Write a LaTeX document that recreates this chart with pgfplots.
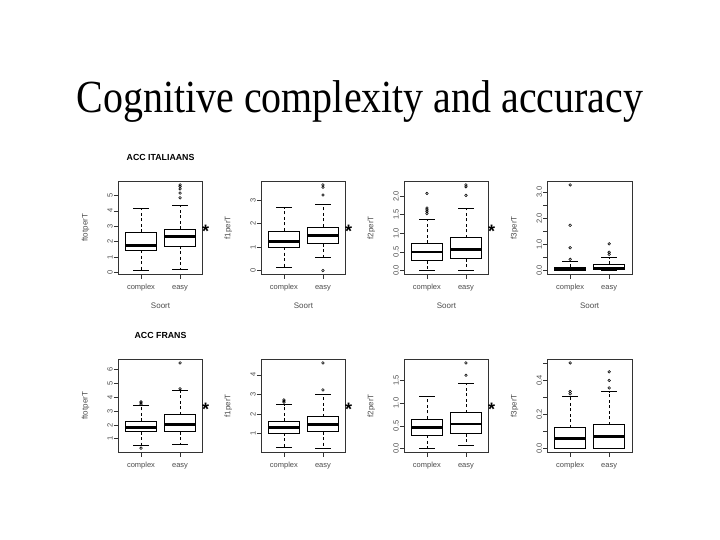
\documentclass[border=0pt]{standalone}
\usepackage{graphicx}
\usepackage{fontspec}
\setmainfont{Liberation Serif}
\newfontfamily\arial{Liberation Sans}
\usepackage{pgfplots}
\pgfplotsset{compat=1.18}
\usepgfplotslibrary{statistics}
\newcommand{\tfont}{\arial\fontsize{7.5}{9}\selectfont}
\newcommand{\lfont}{\arial\fontsize{8}{9.5}\selectfont}
\newcommand{\starfont}{\arial\bfseries\fontsize{18}{18}\selectfont}

\pgfplotsset{
  boxplot/draw direction=y,
  boxplot/box extend=0.8,
  boxplot/whisker extend=0.4,
  boxplot/every box/.style={black, line width=0.75pt, solid},
  boxplot/every median/.style={black, line width=2.8pt, solid},
  boxplot/draw/lower whisker/.code={%
    \draw[black, line width=0.6pt, dash pattern=on 3pt off 2.5pt]
      (boxplot box cs:\pgfplotsboxplotvalue{lower quartile},0.5)
      -- (boxplot box cs:\pgfplotsboxplotvalue{lower whisker},0.5);
    \draw[black, line width=0.7pt, solid]
      (boxplot whisker cs:\pgfplotsboxplotvalue{lower whisker},0)
      -- (boxplot whisker cs:\pgfplotsboxplotvalue{lower whisker},1);
  },
  boxplot/draw/upper whisker/.code={%
    \draw[black, line width=0.6pt, dash pattern=on 3pt off 2.5pt]
      (boxplot box cs:\pgfplotsboxplotvalue{upper quartile},0.5)
      -- (boxplot box cs:\pgfplotsboxplotvalue{upper whisker},0.5);
    \draw[black, line width=0.7pt, solid]
      (boxplot whisker cs:\pgfplotsboxplotvalue{upper whisker},0)
      -- (boxplot whisker cs:\pgfplotsboxplotvalue{upper whisker},1);
  },
  rpanel/.style={
    scale only axis, width=84.3pt, height=92.5pt, anchor=south west,
    xmin=0.42, xmax=2.58, enlargelimits=false, clip=false,
    xtick={1,2}, xticklabels={complex,easy},
    xtick pos=left, ytick pos=left, tick align=outside,
    major tick length=4.5pt, minor tick num=0,
    tick style={black!80, line width=0.55pt},
    axis line style={black!80, line width=0.55pt},
    xticklabel style={font=\tfont, text=black!70, anchor=center, inner sep=0pt},
    yticklabel style={font=\tfont, text=black!70, rotate=90, anchor=center, inner sep=0pt},
    xticklabel shift=9.5pt, yticklabel shift=3.8pt,
    ylabel style={font=\lfont, text=black!70, at={(axis description cs:-0.39,0.5)}, anchor=center},
    xlabel style={font=\lfont, text=black!70, at={(axis description cs:0.5,-0.345)}, anchor=center},
    title style={font=\arial\bfseries\fontsize{8.8}{10}\selectfont, at={(axis description cs:0.5,1.2)}, anchor=center},
    scaled y ticks=false,
  },
  outl/.style={only marks, mark=o, mark size=1.3pt, black, mark options={line width=0.55pt, solid}},
}

\begin{document}
\begin{tikzpicture}[x=1pt,y=1pt]
\fill[white] (0,0) rectangle (720,-540);
\useasboundingbox (0,0) rectangle (720,-540);

\node[anchor=base, inner sep=0pt] at (360,-113)
  {\scalebox{0.868}[1]{\fontsize{46}{50}\selectfont Cognitive complexity and accuracy}};

% ---------------- Row 1: ACC ITALIAANS ----------------
\begin{axis}[rpanel, name=p1, at={(118.4pt,-274pt)},
  ymin=-0.1, ymax=5.91, ytick={0,1,2,3,4,5}, yticklabels={0,1,2,3,4,5},
  ylabel={ftotperT}, xlabel={Soort}, title={ACC ITALIAANS}]
\addplot[black, boxplot prepared={draw position=1, lower whisker=0.12, lower quartile=1.45, median=1.75, upper quartile=2.62, upper whisker=4.17}] coordinates {};
\addplot[black, boxplot prepared={draw position=2, lower whisker=0.2, lower quartile=1.72, median=2.32, upper quartile=2.8, upper whisker=4.38}] coordinates {};
\addplot[outl] coordinates {(2,4.85) (2,5.16) (2,5.43) (2,5.58) (2,5.69)};
\end{axis}
\node[font=\starfont, inner sep=0pt] at ([xshift=3pt,yshift=-3.5pt]p1.east) {*};

\begin{axis}[rpanel, name=p2, at={(261.3pt,-274pt)},
  ymin=-0.146, ymax=3.796, ytick={0,1,2,3}, yticklabels={0,1,2,3},
  ylabel={f1perT}, xlabel={Soort}]
\addplot[black, boxplot prepared={draw position=1, lower whisker=0.14, lower quartile=1.0, median=1.24, upper quartile=1.69, upper whisker=2.71}] coordinates {};
\addplot[black, boxplot prepared={draw position=2, lower whisker=0.58, lower quartile=1.14, median=1.5, upper quartile=1.86, upper whisker=2.83}] coordinates {};
\addplot[outl] coordinates {(2,0.0) (2,3.22) (2,3.55) (2,3.65)};
\end{axis}
\node[font=\starfont, inner sep=0pt] at ([xshift=3pt,yshift=-3.5pt]p2.east) {*};

\begin{axis}[rpanel, name=p3, at={(404.3pt,-274pt)},
  ymin=-0.092, ymax=2.392, ytick={0,0.5,1,1.5,2}, yticklabels={0.0,0.5,1.0,1.5,2.0},
  ylabel={f2perT}, xlabel={Soort}]
\addplot[black, boxplot prepared={draw position=1, lower whisker=0.0, lower quartile=0.27, median=0.5, upper quartile=0.73, upper whisker=1.37}] coordinates {};
\addplot[black, boxplot prepared={draw position=2, lower whisker=0.0, lower quartile=0.32, median=0.57, upper quartile=0.88, upper whisker=1.67}] coordinates {};
\addplot[outl] coordinates {(1,1.53) (1,1.58) (1,1.63) (1,1.68) (1,2.07) (2,2.02) (2,2.25) (2,2.3)};
\end{axis}
\node[font=\starfont, inner sep=0pt] at ([xshift=3pt,yshift=-3.5pt]p3.east) {*};

\begin{axis}[rpanel, name=p4, at={(547.5pt,-274pt)},
  ymin=-0.131, ymax=3.401, ytick={0,0.5,1,1.5,2,2.5,3}, yticklabels={0.0,,1.0,,2.0,,3.0},
  ylabel={f3perT}, xlabel={Soort}]
\addplot[black, boxplot prepared={draw position=1, lower whisker=0.0, lower quartile=0.02, median=0.06, upper quartile=0.13, upper whisker=0.37}] coordinates {};
\addplot[black, boxplot prepared={draw position=2, lower whisker=0.0, lower quartile=0.03, median=0.1, upper quartile=0.24, upper whisker=0.51}] coordinates {};
\addplot[outl] coordinates {(1,0.43) (1,0.87) (1,1.73) (1,3.27) (2,0.62) (2,0.7) (2,1.02)};
\end{axis}

% ---------------- Row 2: ACC FRANS ----------------
\begin{axis}[rpanel, name=p5, at={(118.4pt,-452pt)},
  ymin=0.04, ymax=6.74, ytick={1,2,3,4,5,6}, yticklabels={1,2,3,4,5,6},
  ylabel={ftotperT}, title={ACC FRANS}]
\addplot[black, boxplot prepared={draw position=1, lower whisker=0.5, lower quartile=1.52, median=1.83, upper quartile=2.26, upper whisker=3.41}] coordinates {};
\addplot[black, boxplot prepared={draw position=2, lower whisker=0.56, lower quartile=1.51, median=2.03, upper quartile=2.74, upper whisker=4.48}] coordinates {};
\addplot[outl] coordinates {(1,0.32) (1,3.5) (1,3.6) (1,3.68) (2,4.62) (2,6.49)};
\end{axis}
\node[font=\starfont, inner sep=0pt] at ([xshift=3pt,yshift=-3.5pt]p5.east) {*};

\begin{axis}[rpanel, name=p6, at={(261.3pt,-452pt)},
  ymin=0.055, ymax=4.785, ytick={1,2,3,4}, yticklabels={1,2,3,4},
  ylabel={f1perT}]
\addplot[black, boxplot prepared={draw position=1, lower whisker=0.28, lower quartile=1.03, median=1.32, upper quartile=1.62, upper whisker=2.47}] coordinates {};
\addplot[black, boxplot prepared={draw position=2, lower whisker=0.23, lower quartile=1.1, median=1.48, upper quartile=1.86, upper whisker=3.01}] coordinates {};
\addplot[outl] coordinates {(1,2.6) (1,2.66) (1,2.72) (2,3.23) (2,4.61)};
\end{axis}
\node[font=\starfont, inner sep=0pt] at ([xshift=3pt,yshift=-3.5pt]p6.east) {*};

\begin{axis}[rpanel, name=p7, at={(404.3pt,-452pt)},
  ymin=-0.075, ymax=1.955, ytick={0,0.5,1,1.5}, yticklabels={0.0,0.5,1.0,1.5},
  ylabel={f2perT}]
\addplot[black, boxplot prepared={draw position=1, lower whisker=0.0, lower quartile=0.29, median=0.46, upper quartile=0.65, upper whisker=1.15}] coordinates {};
\addplot[black, boxplot prepared={draw position=2, lower whisker=0.07, lower quartile=0.33, median=0.54, upper quartile=0.79, upper whisker=1.44}] coordinates {};
\addplot[outl] coordinates {(2,1.61) (2,1.88)};
\end{axis}
\node[font=\starfont, inner sep=0pt] at ([xshift=3pt,yshift=-3.5pt]p7.east) {*};

\begin{axis}[rpanel, name=p8, at={(547.5pt,-452pt)},
  ymin=-0.02, ymax=0.52, ytick={0,0.1,0.2,0.3,0.4,0.5}, yticklabels={0.0,,0.2,,0.4,},
  ylabel={f3perT}]
\addplot[black, boxplot prepared={draw position=1, lower whisker=0.0, lower quartile=0.0, median=0.058, upper quartile=0.123, upper whisker=0.304}] coordinates {};
\addplot[black, boxplot prepared={draw position=2, lower whisker=0.0, lower quartile=0.0, median=0.072, upper quartile=0.14, upper whisker=0.333}] coordinates {};
\addplot[outl] coordinates {(1,0.32) (1,0.333) (1,0.5) (2,0.354) (2,0.398) (2,0.448)};
\end{axis}
\end{tikzpicture}
\end{document}
